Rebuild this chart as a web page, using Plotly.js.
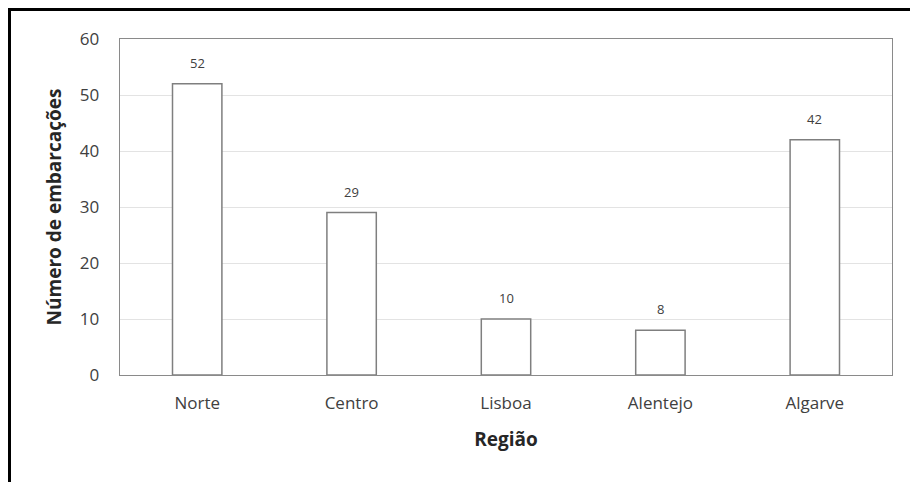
<!DOCTYPE html>
<html>
<head>
<meta charset="utf-8">
<script src="https://cdn.plot.ly/plotly-3.0.1.min.js"></script>
<style>
  html, body { margin: 0; padding: 0; background: #ffffff; }
  #wrap { position: relative; width: 910px; height: 482px; overflow: hidden; }
  #chart { width: 910px; height: 482px; }
  /* frame edge around the figure (top and left sides) */
  #edge {
    position: absolute; left: 8px; top: 8px; width: 910px; height: 490px;
    border-top: 3px solid #000; border-left: 3px solid #000;
    pointer-events: none;
  }
</style>
</head>
<body>
<div id="wrap">
  <div id="chart"></div>
  <div id="edge"></div>
</div>
<script>
// Vessels per region
const regioes = ['Norte', 'Centro', 'Lisboa', 'Alentejo', 'Algarve'];
const embarcacoes = [52, 29, 10, 8, 42];
const yTicks = [0, 10, 20, 30, 40, 50, 60];

const fontFamily = '"Open Sans", "Noto Sans", "Liberation Sans", sans-serif';

const trace = {
  type: 'bar',
  x: regioes,
  y: embarcacoes,
  width: 0.32,
  marker: { color: '#ffffff', line: { color: '#7f7f7f', width: 1.5 } },
  hoverinfo: 'x+y'
};

// value labels above each bar
const labels = regioes.map((r, i) => ({
  x: r, y: embarcacoes[i], xref: 'x', yref: 'y',
  text: String(embarcacoes[i]), showarrow: false,
  yanchor: 'middle', yshift: 21,
  font: { family: fontFamily, size: 13, color: '#404040' }
}));

const layout = {
  width: 910, height: 482,
  margin: { l: 120, r: 18, t: 39, b: 107 },
  paper_bgcolor: '#ffffff', plot_bgcolor: '#ffffff',
  showlegend: false,
  xaxis: {
    type: 'category',
    showgrid: false, zeroline: false,
    showline: true, mirror: true, linecolor: '#8a8a8a', linewidth: 1.4,
    ticks: '', ticklabelstandoff: 12,
    tickfont: { family: fontFamily, size: 17, color: '#404040' },
    title: { text: 'Região', standoff: 20,
             font: { family: fontFamily, size: 19, color: '#262626', weight: 'bold' } }
  },
  yaxis: {
    range: [0, 60], tickvals: yTicks, ticktext: yTicks.map(String),
    showgrid: true, gridcolor: '#e3e3e3', gridwidth: 1,
    zeroline: false,
    showline: true, mirror: true, linecolor: '#8a8a8a', linewidth: 1.4,
    ticks: '', ticklabelstandoff: 16,
    tickfont: { family: fontFamily, size: 17, color: '#404040' },
    title: { text: 'Número de embarcações', standoff: 13,
             font: { family: fontFamily, size: 19, color: '#262626', weight: 'bold' } }
  },
  annotations: labels
};

Plotly.newPlot('chart', [trace], layout, { displayModeBar: false, staticPlot: true });
</script>
</body>
</html>
